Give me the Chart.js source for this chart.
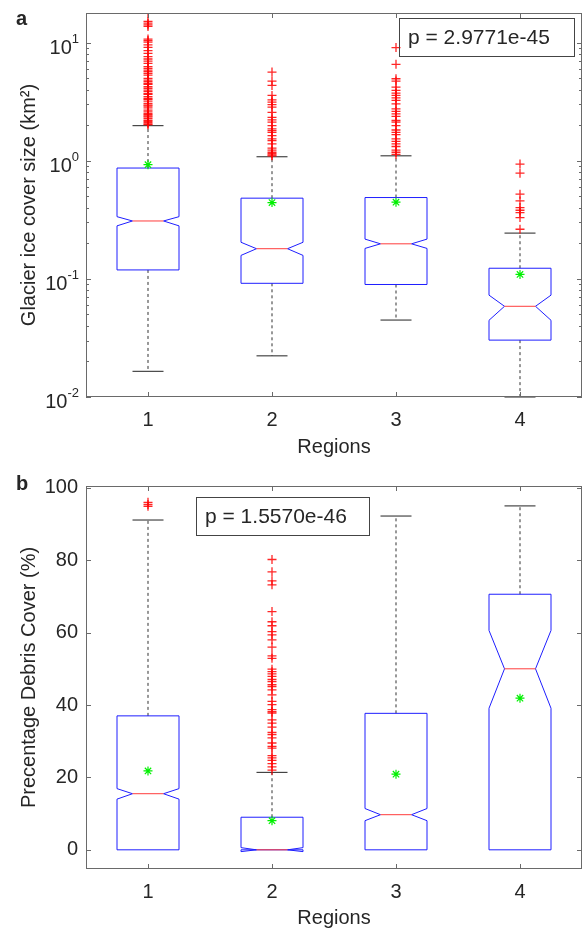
<!DOCTYPE html>
<html lang="en">
<head>
    <meta charset="UTF-8">
    <title>Glacier size and debris cover by region</title>
    <script src="https://cdn.jsdelivr.net/npm/chart.js@4"></script>
    <style>
        body { margin: 0; background: #fff; overflow: hidden; }
        #wrap { position: relative; width: 582px; height: 930px; }
        .panel { position: absolute; left: 0; width: 582px; height: 465px; }
        .panel canvas { display: block; }
        #pa { top: 0; }
        #pb { top: 465px; }
    </style>
</head>
<body>
<div id="wrap">
    <div class="panel" id="pa"><canvas id="chartA"></canvas></div>
    <div class="panel" id="pb"><canvas id="chartB"></canvas></div>
</div>
<script>
// categories
const regions = [1, 2, 3, 4];

// panel a: glacier ice cover size (km2), log axis
const sizeQ1 = [0.119, 0.0917, 0.0896, 0.0303];
const sizeMedian = [0.309, 0.180, 0.198, 0.0586];
const sizeQ3 = [0.867, 0.482, 0.488, 0.123];
const sizeNotchLo = [0.281, 0.158, 0.181, 0.0446];
const sizeNotchHi = [0.336, 0.204, 0.217, 0.0728];
const sizeWhiskerLo = [0.0165, 0.0223, 0.0448, 0.0100];
const sizeWhiskerHi = [1.98, 1.08, 1.10, 0.244];
const sizeMean = [0.925, 0.442, 0.446, 0.109];
const sizeOutliers1 = [17.7, 15.1, 14.6, 14.1, 13.7, 10.7, 10.4, 10.1, 9.55, 9.12, 8.55, 8.11, 7.6, 7.26,
    6.98, 6.67, 6.25, 6.05, 5.85, 5.67, 5.49, 5.31, 4.97, 4.81, 4.66, 4.5, 4.43, 4.23, 4.09, 3.96, 3.84,
    3.7, 3.64, 3.48, 3.36, 3.3, 3.19, 3.05, 2.95, 2.9, 2.8, 2.68, 2.59, 2.5, 2.46, 2.4, 2.35, 2.28, 2.2,
    2.15, 2.1, 2.05, 2.02];
const sizeOutliers2 = [5.63, 4.72, 4.34, 3.57, 3.28, 3.13, 2.99, 2.84, 2.57, 2.33, 2.22, 2.12, 1.98, 1.86,
    1.8, 1.74, 1.63, 1.53, 1.48, 1.39, 1.28, 1.23, 1.18, 1.15, 1.12, 1.1];
const sizeOutliers3 = [9.08, 6.54, 4.94, 4.72, 4.2, 3.94, 3.73, 3.57, 3.41, 3.24, 3.03, 2.75, 2.62, 2.49,
    2.37, 2.19, 2.12, 1.98, 1.82, 1.74, 1.66, 1.53, 1.46, 1.39, 1.32, 1.23, 1.18, 1.13];
const sizeOutliers4 = [0.937, 0.785, 0.521, 0.457, 0.401, 0.381, 0.363, 0.33, 0.263];
const sizeTicks = [0.01, 0.1, 1, 10];
const sizeExponents = ['-2', '-1', '0', '1'];

// panel b: percentage debris cover
const pctQ1 = [0, 0, 0, 0];
const pctMedian = [15.5, 0, 9.7, 50.0];
const pctQ3 = [37.0, 9.0, 37.7, 70.6];
const pctNotchLo = [14.0, -0.5, 8.05, 39.1];
const pctNotchHi = [16.9, 0.6, 11.4, 60.6];
const pctWhiskerLo = [0, 0, 0, 0];
const pctWhiskerHi = [91.1, 21.4, 92.2, 95.0];
const pctMean = [21.8, 8.05, 20.9, 41.9];
const pctOutliers1 = [96.0, 95.4, 94.9];
const pctOutliers2 = [80.2, 76.8, 74.3, 73.2, 65.8, 63.0, 61.9, 60.3, 59.4, 58.0, 56.0, 53.6, 52.9, 49.9,
    49.2, 48.6, 47.9, 47.1, 46.5, 45.6, 45.1, 44.2, 42.8, 41.0, 40.1, 38.7, 38.2, 37.8, 35.9, 35.0, 33.9,
    32.4, 31.8, 30.9, 29.5, 28.6, 28.1, 26.0, 25.4, 24.7, 23.8, 22.9, 22.0];
const pctOutliers3 = [];
const pctOutliers4 = [];
const pctTicks = [0, 20, 40, 60, 80, 100];

const textColor = '#262626';
const axisColor = '#6a6a6a';
const fontFamily = '"Liberation Sans", Arial, Helvetica, sans-serif';

function points(lists) {
    return lists.flatMap((vals, i) => vals.map(v => ({ x: regions[i], y: v })));
}

// notched boxes, whiskers and caps, drawn through the chart scales
const notchBoxPlugin = {
    id: 'notchBox',
    beforeDatasetsDraw(chart, args, o) {
        const { ctx, chartArea: a } = chart;
        const xs = chart.scales.x, ys = chart.scales.y;
        ctx.save();
        ctx.beginPath();
        ctx.rect(a.left, a.top - 1, a.right - a.left, a.bottom - a.top + 2);
        ctx.clip();
        ctx.lineWidth = 1;
        regions.forEach((r, i) => {
            const cx = xs.getPixelForValue(r);
            const hw = xs.getPixelForValue(r + 0.25) - cx;
            const nw = hw * 0.5;
            const py = v => ys.getPixelForValue(v);
            // whiskers and caps (skipped where the whisker collapses onto the box)
            const ends = [[o.q3[i], o.whiHi[i]], [o.q1[i], o.whiLo[i]]].filter(e => e[0] !== e[1]);
            ends.forEach(([from, to]) => {
                ctx.strokeStyle = '#333';
                ctx.setLineDash([3, 3]);
                ctx.beginPath();
                ctx.moveTo(cx, py(from)); ctx.lineTo(cx, py(to));
                ctx.stroke();
                ctx.setLineDash([]);
                ctx.strokeStyle = '#222';
                ctx.beginPath();
                ctx.moveTo(cx - nw, py(to)); ctx.lineTo(cx + nw, py(to));
                ctx.stroke();
            });
            // box with notch
            ctx.strokeStyle = 'rgb(30,30,255)';
            ctx.beginPath();
            ctx.moveTo(cx - hw, py(o.q1[i]));
            ctx.lineTo(cx - hw, py(o.nLo[i]));
            ctx.lineTo(cx - nw, py(o.med[i]));
            ctx.lineTo(cx - hw, py(o.nHi[i]));
            ctx.lineTo(cx - hw, py(o.q3[i]));
            ctx.lineTo(cx + hw, py(o.q3[i]));
            ctx.lineTo(cx + hw, py(o.nHi[i]));
            ctx.lineTo(cx + nw, py(o.med[i]));
            ctx.lineTo(cx + hw, py(o.nLo[i]));
            ctx.lineTo(cx + hw, py(o.q1[i]));
            ctx.closePath();
            ctx.stroke();
            // median
            ctx.strokeStyle = 'rgb(255,60,60)';
            ctx.beginPath();
            ctx.moveTo(cx - nw, py(o.med[i])); ctx.lineTo(cx + nw, py(o.med[i]));
            ctx.stroke();
        });
        ctx.restore();
    }
};

// axes box, inward ticks, log labels, panel letter and p-value box
const frame = {
    id: 'frame',
    afterDraw(chart, args, o) {
        const { ctx, chartArea: a } = chart;
        const xs = chart.scales.x, ys = chart.scales.y;
        ctx.save();
        ctx.strokeStyle = axisColor;
        ctx.lineWidth = 1;
        ctx.strokeRect(a.left + 0.5, a.top + 0.5, a.right - a.left - 1, a.bottom - a.top - 1);
        ctx.beginPath();
        regions.forEach(r => {
            const x = Math.round(xs.getPixelForValue(r)) + 0.5;
            ctx.moveTo(x, a.bottom); ctx.lineTo(x, a.bottom - 5);
            ctx.moveTo(x, a.top); ctx.lineTo(x, a.top + 5);
        });
        o.majors.forEach(v => {
            const y = Math.round(ys.getPixelForValue(v)) + 0.5;
            ctx.moveTo(a.left, y); ctx.lineTo(a.left + 5, y);
            ctx.moveTo(a.right, y); ctx.lineTo(a.right - 5, y);
        });
        (o.minors || []).forEach(v => {
            const y = Math.round(ys.getPixelForValue(v)) + 0.5;
            ctx.moveTo(a.left, y); ctx.lineTo(a.left + 3, y);
            ctx.moveTo(a.right, y); ctx.lineTo(a.right - 3, y);
        });
        ctx.stroke();

        ctx.fillStyle = textColor;
        if (o.exponents) {
            o.majors.forEach((v, i) => {
                const y = ys.getPixelForValue(v);
                ctx.font = '13px ' + fontFamily;
                const ew = ctx.measureText(o.exponents[i]).width;
                ctx.textAlign = 'right';
                ctx.textBaseline = 'alphabetic';
                ctx.fillText(o.exponents[i], 79, y);
                ctx.font = '20px ' + fontFamily;
                ctx.fillText('10', 79 - ew, y + 11);
            });
        }
        ctx.font = 'bold 20px ' + fontFamily;
        ctx.textAlign = 'left';
        ctx.textBaseline = 'alphabetic';
        ctx.fillText(o.letter, 16, o.letterY);

        ctx.strokeStyle = '#444';
        ctx.strokeRect(o.pBox[0] + 0.5, o.pBox[1] + 0.5, o.pBox[2], o.pBox[3]);
        ctx.font = '21px ' + fontFamily;
        ctx.textBaseline = 'middle';
        ctx.fillText(o.pText, o.pBox[0] + 9, o.pBox[1] + o.pBox[3] / 2 + 1);
        ctx.restore();
    }
};

function makeChart(id, cfg) {
    return new Chart(document.getElementById(id), {
        type: 'scatter',
        data: {
            datasets: [{
                data: points(cfg.outliers),
                pointStyle: 'cross',
                pointRadius: 4.5,
                pointBorderWidth: 1.3,
                pointBorderColor: 'rgba(255,0,0,0.85)',
                pointBackgroundColor: 'rgba(255,0,0,0.85)'
            }, {
                data: regions.map((r, i) => ({ x: r, y: cfg.mean[i] })),
                pointStyle: 'star',
                pointRadius: 4.5,
                pointBorderWidth: 1.2,
                pointBorderColor: 'rgb(0,240,0)',
                pointBackgroundColor: 'rgb(0,240,0)'
            }]
        },
        options: {
            responsive: true,
            maintainAspectRatio: false,
            animation: false,
            events: [],
            layout: { autoPadding: false, padding: { top: cfg.top, right: 0, left: 0, bottom: 0 } },
            plugins: {
                legend: { display: false },
                tooltip: { enabled: false },
                notchBox: cfg.box,
                frame: cfg.frame
            },
            scales: {
                x: {
                    type: 'linear',
                    min: 0.5,
                    max: 4.5,
                    afterBuildTicks: s => { s.ticks = regions.map(v => ({ value: v })); },
                    afterFit: s => { s.height = cfg.xHeight; s.paddingLeft = 0; s.paddingRight = 0; },
                    grid: { display: false, drawTicks: false },
                    border: { display: false },
                    ticks: { color: textColor, padding: 11, font: { size: 20, family: fontFamily } },
                    title: {
                        display: true, text: 'Regions', color: textColor,
                        font: { size: 20, family: fontFamily },
                        padding: { top: 0, bottom: cfg.titlePad }
                    }
                },
                y: Object.assign({
                    afterFit: s => { s.width = 86; s.paddingTop = 0; s.paddingBottom = 0; },
                    grid: { display: false, drawTicks: false },
                    border: { display: false },
                    title: {
                        display: true, text: cfg.yTitle, color: textColor,
                        font: { size: 20, family: fontFamily },
                        padding: { top: 17, bottom: 0 }
                    }
                }, cfg.y)
            }
        },
        plugins: [notchBoxPlugin, frame]
    });
}

const sizeMinors = [];
[0.01, 0.1, 1, 10].forEach(d => { for (let k = 2; k <= 9; k++) if (d * k < 17.8) sizeMinors.push(d * k); });

makeChart('chartA', {
    top: 13,
    xHeight: 68,
    titlePad: 6,
    yTitle: 'Glacier ice cover size (km²)',
    outliers: [sizeOutliers1, sizeOutliers2, sizeOutliers3, sizeOutliers4],
    mean: sizeMean,
    box: { q1: sizeQ1, med: sizeMedian, q3: sizeQ3, nLo: sizeNotchLo, nHi: sizeNotchHi, whiLo: sizeWhiskerLo, whiHi: sizeWhiskerHi },
    frame: { majors: sizeTicks, minors: sizeMinors, exponents: sizeExponents, letter: 'a', letterY: 25,
             pText: 'p = 2.9771e-45', pBox: [399, 18, 175, 38] },
    y: {
        type: 'logarithmic', min: 0.01, max: 17.8,
        afterBuildTicks: s => { s.ticks = sizeTicks.map(v => ({ value: v })); },
        ticks: { display: false }
    }
});

makeChart('chartB', {
    top: 21,
    xHeight: 61,
    titlePad: 0,
    yTitle: 'Precentage Debris Cover (%)',
    outliers: [pctOutliers1, pctOutliers2, pctOutliers3, pctOutliers4],
    mean: pctMean,
    box: { q1: pctQ1, med: pctMedian, q3: pctQ3, nLo: pctNotchLo, nHi: pctNotchHi, whiLo: pctWhiskerLo, whiHi: pctWhiskerHi },
    frame: { majors: pctTicks, letter: 'b', letterY: 25,
             pText: 'p = 1.5570e-46', pBox: [196, 32, 173, 38] },
    y: {
        type: 'linear', min: -5.3, max: 100.5,
        afterBuildTicks: s => { s.ticks = pctTicks.map(v => ({ value: v })); },
        ticks: { color: textColor, padding: 8, font: { size: 20, family: fontFamily } }
    }
});
</script>
</body>
</html>
